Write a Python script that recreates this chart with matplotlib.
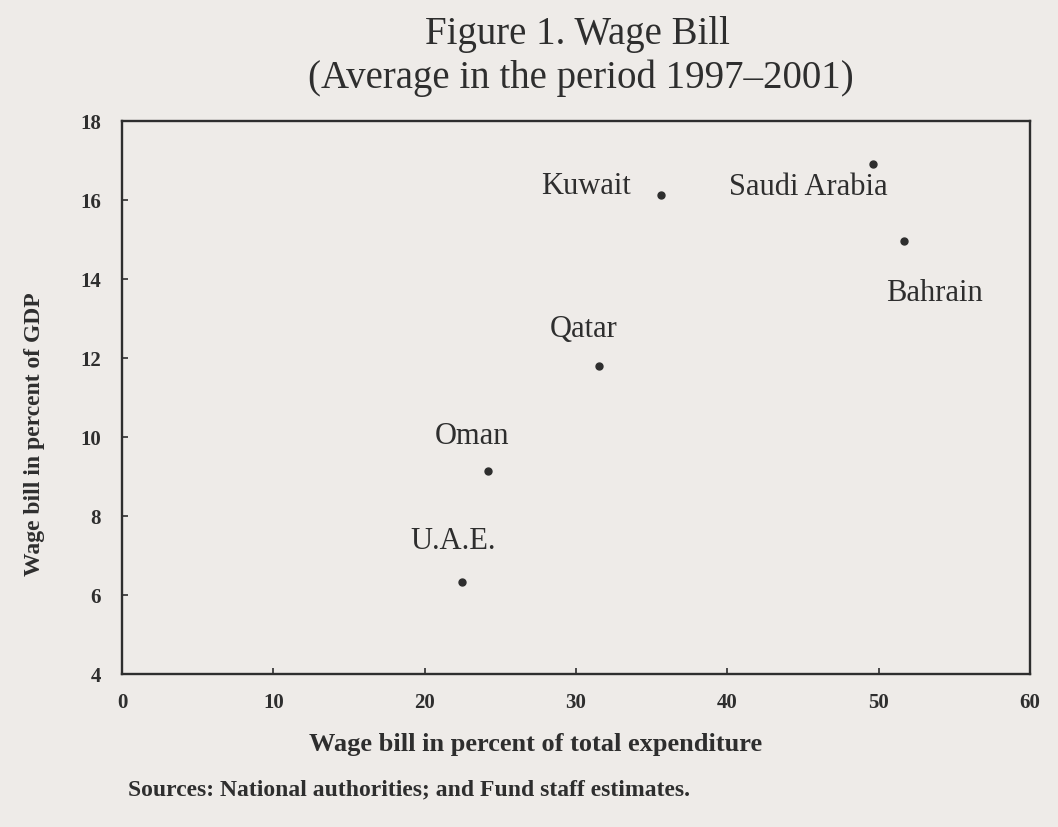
import numpy as np
import matplotlib
matplotlib.use("Agg")
import matplotlib.pyplot as plt

# データ
countries = ['Kuwait', 'Saudi Arabia', 'Bahrain', 'Qatar', 'Oman', 'U.A.E.']
wage_exp = [35.6, 49.6, 51.7, 31.5, 24.2, 22.5]   # percent of total expenditure
wage_gdp = [16.13, 16.9, 14.96, 11.8, 9.14, 6.33]  # percent of GDP
x_ticks = [0, 10, 20, 30, 40, 50, 60]
y_ticks = [4, 6, 8, 10, 12, 14, 16, 18]

# label offsets (points)
offsets = {'Kuwait': (-54, 6.5), 'Saudi Arabia': (-46, -16), 'Bahrain': (22, -37),
           'Qatar': (-11, 26.6), 'Oman': (-11.5, 25.2), 'U.A.E.': (-6.5, 29.5)}

bg = '#eeebe8'
ink = '#2e2e2e'
plt.rcParams['font.family'] = ['Liberation Serif', 'DejaVu Serif']

fig = plt.figure(figsize=(10.58, 8.28), dpi=100, facecolor=bg)
ax = fig.add_axes([0.1153, 0.1848, 0.8582, 0.6679], facecolor=bg)

ax.plot(wage_exp, wage_gdp, 'o', color=ink, markersize=5, linestyle='none')
for c, x, y in zip(countries, wage_exp, wage_gdp):
    ax.annotate(c, (x, y), xytext=offsets[c], textcoords='offset points',
                ha='center', va='center', fontsize=22, color=ink)

ax.set_xlim(0, 60)
ax.set_ylim(4, 18)
ax.set_xticks(x_ticks)
ax.set_yticks(y_ticks)
ax.tick_params(direction='in', length=4, width=1.2, colors=ink, labelsize=15)
ax.tick_params(axis='x', pad=13)
ax.tick_params(axis='y', pad=15)
for lab in ax.get_xticklabels() + ax.get_yticklabels():
    lab.set_fontweight('bold')
for s in ax.spines.values():
    s.set_linewidth(1.7)
    s.set_color(ink)

fig.text(0.546, 0.958, 'Figure 1. Wage Bill', ha='center', va='center', fontsize=28, color=ink)
fig.text(0.549, 0.906, '(Average in the period 1997\u20132001)', ha='center', va='center', fontsize=28, color=ink)
fig.text(0.506, 0.101, 'Wage bill in percent of total expenditure', ha='center', va='center',
         fontsize=19, fontweight='bold', color=ink)
fig.text(0.033, 0.476, 'Wage bill in percent of GDP', ha='center', va='center', rotation=90,
         fontsize=17, fontweight='bold', color=ink)
fig.text(0.121, 0.046, 'Sources: National authorities; and Fund staff estimates.', ha='left', va='center',
         fontsize=17, fontweight='bold', color=ink)

fig.savefig('out.png', dpi=100, facecolor=bg)
